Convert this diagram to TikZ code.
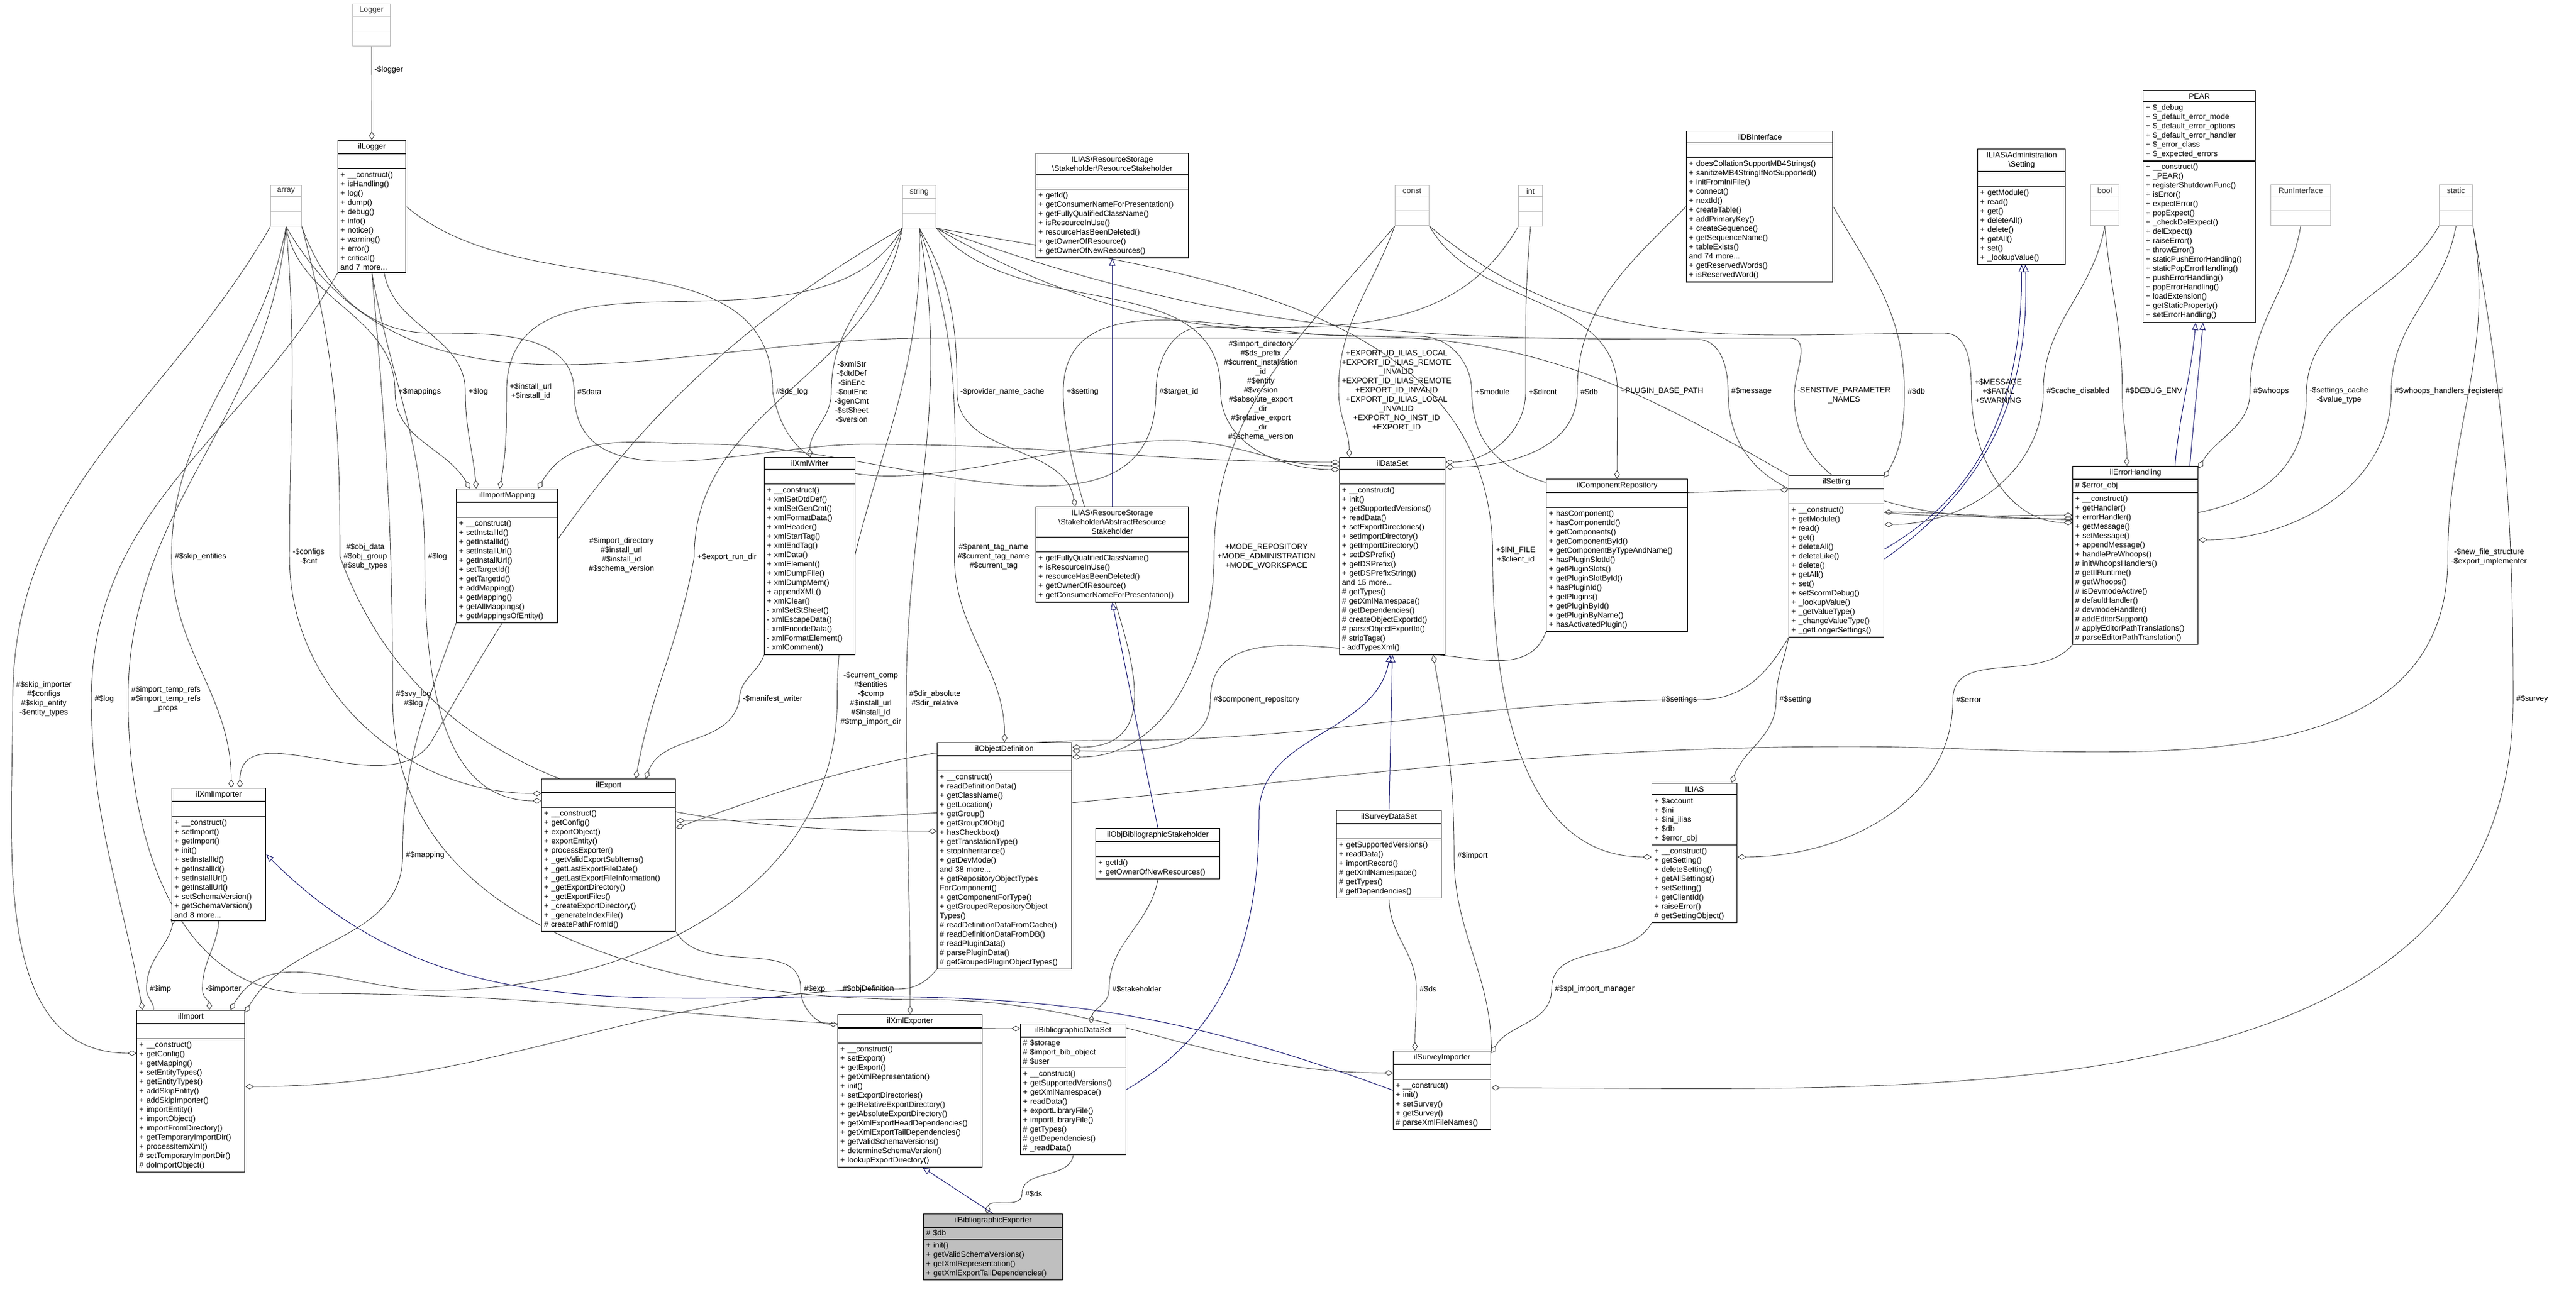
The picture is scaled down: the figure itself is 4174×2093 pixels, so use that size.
\documentclass[tikz,border=0pt]{standalone}
\usepackage{fontspec}
\setmainfont{Liberation Sans}
\usetikzlibrary{shapes.multipart,arrows.meta}
\pgfdeclarelayer{bg}
\pgfsetlayers{bg,main}
\definecolor{edgec}{HTML}{404040}
\definecolor{navyc}{HTML}{191970}
\newcommand{\fs}{\fontsize{6.3}{7.5}\selectfont}
\newcommand{\ttl}[1]{{\centering #1\par}}
\begin{document}
\begin{tikzpicture}[x=0.5pt,y=-0.5pt,
 cls/.style={rectangle split,rectangle split parts=3,draw=black,line width=0.7pt,anchor=north west,
   font=\fs,align=left,inner xsep=2pt,inner ysep=2pt,fill=white},
 gcls/.style={cls,draw=gray!55,text=black!80,line width=0.5pt},
 agg/.style={draw=edgec,line width=0.45pt,-{Diamond[open,length=7pt,width=4.5pt]}},
 inh/.style={draw=navyc,line width=0.5pt,-{Triangle[open,length=6pt,width=5pt]}},
 lbl/.style={font=\fs,align=center,inner sep=0.5pt}]
\useasboundingbox (0,0) rectangle (4174,2093);
% ---------- gray type boxes
\node[gcls,text width=26.5pt] (Logger) at (571,6) {\ttl{Logger}\nodepart{two}\strut\nodepart{three}\strut};
\node[gcls,text width=21pt] (array) at (438,300) {\ttl{array}\nodepart{two}\strut\nodepart{three}\strut};
\node[gcls,text width=23pt] (string) at (1462,300) {\ttl{string}\nodepart{two}\strut\nodepart{three}\strut};
\node[gcls,text width=23.5pt] (const) at (2260,300) {\ttl{const}\nodepart{two}\strut\nodepart{three}\strut};
\node[gcls,text width=15.5pt] (int) at (2460,300) {\ttl{int}\nodepart{two}\strut\nodepart{three}\strut};
\node[gcls,text width=19pt] (bool) at (3387,299) {\ttl{bool}\nodepart{two}\strut\nodepart{three}\strut};
\node[gcls,text width=44.5pt] (RunInterface) at (3679,299) {\ttl{RunInterface}\nodepart{two}\strut\nodepart{three}\strut};
\node[gcls,text width=23pt] (static) at (3952,299) {\ttl{static}\nodepart{two}\strut\nodepart{three}\strut};
% ---------- classes
\node[cls,text width=51pt] (ilLogger) at (547,227) {\ttl{ilLogger}\nodepart{two}\strut\nodepart{three}+ \_\_construct()\\+ isHandling()\\+ log()\\+ dump()\\+ debug()\\+ info()\\+ notice()\\+ warning()\\+ error()\\+ critical()\\and 7 more...};
\node[cls,text width=119.5pt] (RS) at (1678,248) {\ttl{ILIAS\textbackslash ResourceStorage\\\textbackslash Stakeholder\textbackslash ResourceStakeholder}\nodepart{two}\strut\nodepart{three}+ getId()\\+ getConsumerNameForPresentation()\\+ getFullyQualifiedClassName()\\+ isResourceInUse()\\+ resourceHasBeenDeleted()\\+ getOwnerOfResource()\\+ getOwnerOfNewResources()};
\node[cls,text width=114.5pt] (DBI) at (2732,212) {\ttl{ilDBInterface}\nodepart{two}\strut\nodepart{three}+ doesCollationSupportMB4Strings()\\+ sanitizeMB4StringIfNotSupported()\\+ initFromIniFile()\\+ connect()\\+ nextId()\\+ createTable()\\+ addPrimaryKey()\\+ createSequence()\\+ getSequenceName()\\+ tableExists()\\and 74 more...\\+ getReservedWords()\\+ isReservedWord()};
\node[cls,text width=67pt] (AdmSetting) at (3204,241) {\ttl{ILIAS\textbackslash Administration\\\textbackslash Setting}\nodepart{two}\strut\nodepart{three}+ getModule()\\+ read()\\+ get()\\+ deleteAll()\\+ delete()\\+ getAll()\\+ set()\\+ \_lookupValue()};
\node[cls,text width=87pt] (PEAR) at (3472,146) {\ttl{PEAR}\nodepart{two}+ \$\_debug\\+ \$\_default\_error\_mode\\+ \$\_default\_error\_options\\+ \$\_default\_error\_handler\\+ \$\_error\_class\\+ \$\_expected\_errors\nodepart{three}+ \_\_construct()\\+ \_PEAR()\\+ registerShutdownFunc()\\+ isError()\\+ expectError()\\+ popExpect()\\+ \_checkDelExpect()\\+ delExpect()\\+ raiseError()\\+ throwError()\\+ staticPushErrorHandling()\\+ staticPopErrorHandling()\\+ pushErrorHandling()\\+ popErrorHandling()\\+ loadExtension()\\+ getStaticProperty()\\+ setErrorHandling()};
\node[cls,text width=78pt] (IM) at (739,792) {\ttl{ilImportMapping}\nodepart{two}\strut\nodepart{three}+ \_\_construct()\\+ setInstallId()\\+ getInstallId()\\+ setInstallUrl()\\+ getInstallUrl()\\+ setTargetId()\\+ getTargetId()\\+ addMapping()\\+ getMapping()\\+ getAllMappings()\\+ getMappingsOfEntity()};
\node[cls,text width=69.5pt] (XW) at (1238,741) {\ttl{ilXmlWriter}\nodepart{two}\strut\nodepart{three}+ \_\_construct()\\+ xmlSetDtdDef()\\+ xmlSetGenCmt()\\+ xmlFormatData()\\+ xmlHeader()\\+ xmlStartTag()\\+ xmlEndTag()\\+ xmlData()\\+ xmlElement()\\+ xmlDumpFile()\\+ xmlDumpMem()\\+ appendXML()\\+ xmlClear()\\- xmlSetStSheet()\\- xmlEscapeData()\\- xmlEncodeData()\\- xmlFormatElement()\\- xmlComment()};
\node[cls,text width=81.5pt] (DS) at (2170,741) {\ttl{ilDataSet}\nodepart{two}\strut\nodepart{three}+ \_\_construct()\\+ init()\\+ getSupportedVersions()\\+ readData()\\+ setExportDirectories()\\+ setImportDirectory()\\+ getImportDirectory()\\+ setDSPrefix()\\+ getDSPrefix()\\+ getDSPrefixString()\\and 15 more...\\\# getTypes()\\\# getXmlNamespace()\\\# getDependencies()\\\# createObjectExportId()\\\# parseObjectExportId()\\\# stripTags()\\- addTypesXml()};
\node[cls,text width=110.5pt] (CR) at (2505,776) {\ttl{ilComponentRepository}\nodepart{two}\strut\nodepart{three}+ hasComponent()\\+ hasComponentId()\\+ getComponents()\\+ getComponentById()\\+ getComponentByTypeAndName()\\+ hasPluginSlotId()\\+ getPluginSlots()\\+ getPluginSlotById()\\+ hasPluginId()\\+ getPlugins()\\+ getPluginById()\\+ getPluginByName()\\+ hasActivatedPlugin()};
\node[cls,text width=73pt] (SET) at (2898,770) {\ttl{ilSetting}\nodepart{two}\strut\nodepart{three}+ \_\_construct()\\+ getModule()\\+ read()\\+ get()\\+ deleteAll()\\+ deleteLike()\\+ delete()\\+ getAll()\\+ set()\\+ setScormDebug()\\+ \_lookupValue()\\+ \_getValueType()\\+ \_changeValueType()\\+ \_getLongerSettings()};
\node[cls,text width=97.5pt] (EH) at (3358,755) {\ttl{ilErrorHandling}\nodepart{two}\# \$error\_obj\nodepart{three}+ \_\_construct()\\+ getHandler()\\+ errorHandler()\\+ getMessage()\\+ setMessage()\\+ appendMessage()\\+ handlePreWhoops()\\\# initWhoopsHandlers()\\\# getIlRuntime()\\\# getWhoops()\\\# isDevmodeActive()\\\# defaultHandler()\\\# devmodeHandler()\\\# addEditorSupport()\\\# applyEditorPathTranslations()\\\# parseEditorPathTranslation()};
\node[cls,text width=119.5pt] (ARS) at (1678,821) {\ttl{ILIAS\textbackslash ResourceStorage\\\textbackslash Stakeholder\textbackslash AbstractResource\\Stakeholder}\nodepart{two}\strut\nodepart{three}+ getFullyQualifiedClassName()\\+ isResourceInUse()\\+ resourceHasBeenDeleted()\\+ getOwnerOfResource()\\+ getConsumerNameForPresentation()};
\node[cls,text width=72pt] (XI) at (278,1277) {\ttl{ilXmlImporter}\nodepart{two}\strut\nodepart{three}+ \_\_construct()\\+ setImport()\\+ getImport()\\+ init()\\+ setInstallId()\\+ getInstallId()\\+ setInstallUrl()\\+ getInstallUrl()\\+ setSchemaVersion()\\+ getSchemaVersion()\\and 8 more...};
\node[cls,text width=104.5pt] (EXP) at (877,1262) {\ttl{ilExport}\nodepart{two}\strut\nodepart{three}+ \_\_construct()\\+ getConfig()\\+ exportObject()\\+ exportEntity()\\+ processExporter()\\+ \_getValidExportSubItems()\\+ \_getLastExportFileDate()\\+ \_getLastExportFileInformation()\\+ \_getExportDirectory()\\+ \_getExportFiles()\\+ \_createExportDirectory()\\+ \_generateIndexFile()\\\# createPathFromId()};
\node[cls,text width=105pt] (OD) at (1518,1203) {\ttl{ilObjectDefinition}\nodepart{two}\strut\nodepart{three}+ \_\_construct()\\+ readDefinitionData()\\+ getClassName()\\+ getLocation()\\+ getGroup()\\+ getGroupOfObj()\\+ hasCheckbox()\\+ getTranslationType()\\+ stopInheritance()\\+ getDevMode()\\and 38 more...\\+ getRepositoryObjectTypes\\ForComponent()\\+ getComponentForType()\\+ getGroupedRepositoryObject\\Types()\\\# readDefinitionDataFromCache()\\\# readDefinitionDataFromDB()\\\# readPluginData()\\\# parsePluginData()\\\# getGroupedPluginObjectTypes()};
\node[cls,text width=96.5pt] (OBS) at (1775,1342) {\ttl{ilObjBibliographicStakeholder}\nodepart{two}\strut\nodepart{three}+ getId()\\+ getOwnerOfNewResources()};
\node[cls,text width=81pt] (SDS) at (2165,1313) {\ttl{ilSurveyDataSet}\nodepart{two}\strut\nodepart{three}+ getSupportedVersions()\\+ readData()\\+ importRecord()\\\# getXmlNamespace()\\\# getTypes()\\\# getDependencies()};
\node[cls,text width=65pt] (ILIAS) at (2676,1269) {\ttl{ILIAS}\nodepart{two}+ \$account\\+ \$ini\\+ \$ini\_ilias\\+ \$db\\+ \$error\_obj\nodepart{three}+ \_\_construct()\\+ getSetting()\\+ deleteSetting()\\+ getAllSettings()\\+ setSetting()\\+ getClientId()\\+ raiseError()\\\# getSettingObject()};
\node[cls,text width=83.5pt] (IMP) at (221,1637) {\ttl{ilImport}\nodepart{two}\strut\nodepart{three}+ \_\_construct()\\+ getConfig()\\+ getMapping()\\+ setEntityTypes()\\+ getEntityTypes()\\+ addSkipEntity()\\+ addSkipImporter()\\+ importEntity()\\+ importObject()\\+ importFromDirectory()\\+ getTemporaryImportDir()\\+ processItemXml()\\\# setTemporaryImportDir()\\\# doImportObject()};
\node[cls,text width=113pt] (XE) at (1357,1644) {\ttl{ilXmlExporter}\nodepart{two}\strut\nodepart{three}+ \_\_construct()\\+ setExport()\\+ getExport()\\+ getXmlRepresentation()\\+ init()\\+ setExportDirectories()\\+ getRelativeExportDirectory()\\+ getAbsoluteExportDirectory()\\+ getXmlExportHeadDependencies()\\+ getXmlExportTailDependencies()\\+ getValidSchemaVersions()\\+ determineSchemaVersion()\\+ lookupExportDirectory()};
\node[cls,text width=81.5pt] (BDS) at (1653,1659) {\ttl{ilBibliographicDataSet}\nodepart{two}\# \$storage\\\# \$import\_bib\_object\\\# \$user\nodepart{three}+ \_\_construct()\\+ getSupportedVersions()\\+ getXmlNamespace()\\+ readData()\\+ exportLibraryFile()\\+ importLibraryFile()\\\# getTypes()\\\# getDependencies()\\\# \_readData()};
\node[cls,text width=108.5pt,fill=black!25] (BE) at (1496,1967) {\ttl{ilBibliographicExporter}\nodepart{two}\# \$db\nodepart{three}+ init()\\+ getValidSchemaVersions()\\+ getXmlRepresentation()\\+ getXmlExportTailDependencies()};
\node[cls,text width=75pt] (SI) at (2257,1703) {\ttl{ilSurveyImporter}\nodepart{two}\strut\nodepart{three}+ \_\_construct()\\+ init()\\+ setSurvey()\\+ getSurvey()\\\# parseXmlFileNames()};
% ---------- labels
\node[lbl] (lLogger) at (630,113) {-\$logger};
\node[lbl] (lMappings) at (680,635) {+\$mappings};
\node[lbl] (lLog1) at (775,635) {+\$log};
\node[lbl] (lInst) at (860,635) {+\$install\_url\\+\$install\_id};
\node[lbl] (lData) at (955,635) {\#\$data};
\node[lbl] (lDsLog) at (1283,635) {\#\$ds\_log};
\node[lbl] (lXml) at (1380,635) {-\$xmlStr\\-\$dtdDef\\-\$inEnc\\-\$outEnc\\-\$genCmt\\-\$stSheet\\-\$version};
\node[lbl] (lProv) at (1624,635) {-\$provider\_name\_cache};
\node[lbl] (lSetting) at (1754,635) {+\$setting};
\node[lbl] (lTarget) at (1910,635) {\#\$target\_id};
\node[lbl] (lImpDir) at (2043,633) {\#\$import\_directory\\\#\$ds\_prefix\\\#\$current\_installation\\\_id\\\#\$entity\\\#\$version\\\#\$absolute\_export\\\_dir\\\#\$relative\_export\\\_dir\\\#\$schema\_version};
\node[lbl] (lExpId) at (2263,633) {+EXPORT\_ID\_ILIAS\_LOCAL\\+EXPORT\_ID\_ILIAS\_REMOTE\\\_INVALID\\+EXPORT\_ID\_ILIAS\_REMOTE\\+EXPORT\_ID\_INVALID\\+EXPORT\_ID\_ILIAS\_LOCAL\\\_INVALID\\+EXPORT\_NO\_INST\_ID\\+EXPORT\_ID};
\node[lbl] (lModule) at (2418,635) {+\$module};
\node[lbl] (lDircnt) at (2500,635) {+\$dircnt};
\node[lbl] (lDb1) at (2575,635) {\#\$db};
\node[lbl] (lPlugin) at (2693,634) {+PLUGIN\_BASE\_PATH};
\node[lbl] (lMessage) at (2838,634) {\#\$message};
\node[lbl] (lSens) at (2988,641) {-SENSTIVE\_PARAMETER\\\_NAMES};
\node[lbl] (lDb2) at (3105,634) {\#\$db};
\node[lbl] (lMsg) at (3238,634) {+\$MESSAGE\\+\$FATAL\\+\$WARNING};
\node[lbl] (lCache) at (3367,634) {\#\$cache\_disabled};
\node[lbl] (lDebug) at (3490,634) {\#\$DEBUG\_ENV};
\node[lbl] (lWhoops) at (3680,634) {\#\$whoops};
\node[lbl] (lSetCache) at (3790,641) {-\$settings\_cache\\-\$value\_type};
\node[lbl] (lWhReg) at (3968,634) {\#\$whoops\_handlers\_registered};
\node[lbl] (lNewFile) at (4033,903) {-\$new\_file\_structure\\-\$export\_implementer};
\node[lbl] (lSkipEnt) at (325,902) {\#\$skip\_entities};
\node[lbl] (lConfigs) at (500,902) {-\$configs\\-\$cnt};
\node[lbl] (lObjData) at (592,902) {\#\$obj\_data\\\#\$obj\_group\\\#\$sub\_types};
\node[lbl] (lLog2) at (709,902) {\#\$log};
\node[lbl] (lImpDir2) at (1007,900) {\#\$import\_directory\\\#\$install\_url\\\#\$install\_id\\\#\$schema\_version};
\node[lbl] (lRunDir) at (1178,903) {+\$export\_run\_dir};
\node[lbl] (lTag) at (1610,902) {\#\$parent\_tag\_name\\\#\$current\_tag\_name\\\#\$current\_tag};
\node[lbl] (lMode) at (2052,902) {+MODE\_REPOSITORY\\+MODE\_ADMINISTRATION\\+MODE\_WORKSPACE};
\node[lbl] (lIni) at (2456,900) {+\$INI\_FILE\\+\$client\_id};
\node[lbl] (lSkipImp) at (71,1133) {\#\$skip\_importer\\\#\$configs\\\#\$skip\_entity\\-\$entity\_types};
\node[lbl] (lLog3) at (169,1133) {\#\$log};
\node[lbl] (lTemp) at (269,1133) {\#\$import\_temp\_refs\\\#\$import\_temp\_refs\\\_props};
\node[lbl] (lSvyLog) at (670,1133) {\#\$svy\_log\\\#\$log};
\node[lbl] (lManifest) at (1252,1133) {-\$manifest\_writer};
\node[lbl] (lComp) at (1411,1133) {-\$current\_comp\\\#\$entities\\-\$comp\\\#\$install\_url\\\#\$install\_id\\\#\$tmp\_import\_dir};
\node[lbl] (lDirAbs) at (1515,1133) {\#\$dir\_absolute\\\#\$dir\_relative};
\node[lbl] (lCompRep) at (2036,1134) {\#\$component\_repository};
\node[lbl] (lSettings) at (2721,1134) {\#\$settings};
\node[lbl] (lSetting2) at (2909,1134) {\#\$setting};
\node[lbl] (lError) at (3190,1134) {\#\$error};
\node[lbl] (lSurvey) at (4103,1133) {\#\$survey};
\node[lbl] (lMapping) at (689,1386) {\#\$mapping};
\node[lbl] (lImport) at (2386,1387) {\#\$import};
\node[lbl] (lImp) at (260,1603) {\#\$imp};
\node[lbl] (lImporter) at (362,1603) {-\$importer};
\node[lbl] (lExp) at (1320,1603) {\#\$exp};
\node[lbl] (lObjDef) at (1407,1603) {\#\$objDefinition};
\node[lbl] (lStake) at (1842,1603) {\#\$stakeholder};
\node[lbl] (lDs1) at (2314,1603) {\#\$ds};
\node[lbl] (lSpl) at (2584,1603) {\#\$spl\_import\_manager};
\node[lbl] (lDs2) at (1675,1935) {\#\$ds};
\begin{pgfonlayer}{bg}
% ---------- aggregation edges
\draw[agg] (Logger) -- (ilLogger);
\draw[agg] (array.south) to[out=-80,in=90] ([xshift=-2pt]lMappings.west) to[out=-90,in=120] ([xshift=-30pt]IM.north);
\draw[agg] ([xshift=10pt]ilLogger.south) to[out=-80,in=90] ([xshift=-2pt]lLog1.west) to[out=-90,in=95] ([xshift=-25pt]IM.north);
\draw[agg] (string.south west) to[out=-120,in=90] ([xshift=-2pt]lInst.west) to[out=-90,in=80] ([xshift=-6pt]IM.north);
\draw[agg] (int.south west) to[out=-120,in=0] (1950,530) to[out=180,in=90] ([xshift=-2pt]lTarget.west) to[out=-90,in=0] (1150,720) to[out=180,in=60] ([xshift=25pt]IM.north);
\draw[agg] (array.south east) to[out=-70,in=180] (700,540) to[out=0,in=90] ([xshift=-2pt]lData.west) to[out=-90,in=180] (1400,720) to[out=0,in=180] ([yshift=-4pt]DS.north west);
\draw[agg] (ilLogger.east) to[out=-40,in=90] ([xshift=-2pt]lDsLog.west) to[out=-80,in=180] (1900,714) to[out=0,in=180] ([yshift=-7pt]DS.north west);
\draw[agg] (string.south west) to[out=-110,in=90] ([xshift=-2pt]lXml.west) to[out=-90,in=90] (XW.north);
\draw[agg] (string.south) to[out=-60,in=90] ([xshift=-2pt]lProv.west) to[out=-90,in=100] ([xshift=-30pt]ARS.north);
\draw[agg] (SET.north west) to[out=150,in=0] (2200,545) to[out=180,in=90] ([xshift=-2pt]lSetting.west) to[out=-90,in=0] ([yshift=-4pt]OD.north east);
\draw[agg] (string.south east) to[out=-50,in=90] ([xshift=-2pt]lImpDir.west) to[out=-90,in=180] ([yshift=-10pt]DS.north west);
\draw[agg] (const.south west) to[out=-110,in=90] ([xshift=-2pt]lExpId.west) to[out=-90,in=90] ([xshift=-35pt]DS.north);
\draw[agg] (string.south east) to[out=-30,in=180] (2300,545) to[out=0,in=90] ([xshift=-2pt]lModule.west) to[out=-90,in=180] ([yshift=-12pt]SET.north west);
\draw[agg] (int.south) to[out=-95,in=90] ([xshift=-2pt]lDircnt.west) to[out=-90,in=0] ([yshift=-4pt]DS.north east);
\draw[agg] (DBI.west) to[out=-135,in=90] ([xshift=-2pt]lDb1.west) to[out=-90,in=0] ([yshift=-8pt]DS.north east);
\draw[agg] (const.south east) to[out=-60,in=90] ([xshift=-2pt]lPlugin.west) to[out=-90,in=90] (CR.north);
\draw[agg] (string.south east) to[out=-20,in=180] (2750,550) to[out=0,in=90] ([xshift=-2pt]lMessage.west) to[out=-90,in=180] ([yshift=-40pt]EH.north west);
\draw[agg] (array.south) to[out=-60,in=180] (1500,548) to[out=0,in=180] (2900,548) to[out=0,in=90] ([xshift=-2pt]lSens.west) to[out=-90,in=180] ([yshift=-43pt]EH.north west);
\draw[agg] (DBI.east) to[out=-60,in=90] ([xshift=-2pt]lDb2.west) to[out=-90,in=60] ([yshift=-2pt]SET.north east);
\draw[agg] (const.south east) to[out=-40,in=180] (3150,540) to[out=0,in=90] ([xshift=-2pt]lMsg.west) to[out=-90,in=180] ([yshift=-46pt]EH.north west);
\draw[agg] (bool.south) to[out=-100,in=90] ([xshift=-2pt]lCache.west) to[out=-90,in=0] ([yshift=-40pt]SET.north east);
\draw[agg] (bool.south) to[out=-85,in=90] ([xshift=-2pt]lDebug.west) to[out=-90,in=90] ([xshift=-7pt]EH.north);
\draw[agg] (RunInterface.south) to[out=-100,in=90] ([xshift=-2pt]lWhoops.west) to[out=-90,in=60] ([yshift=-2pt]EH.north east);
\draw[agg] (static.south west) to[out=-120,in=90] ([xshift=-2pt]lSetCache.west) to[out=-90,in=0] ([yshift=-30pt]SET.north east);
\draw[agg] (static.south) to[out=-100,in=90] ([xshift=-2pt]lWhReg.west) to[out=-90,in=0] ([yshift=-60pt]EH.north east);
\draw[agg] (static.south east) to[out=-80,in=90] ([xshift=-2pt]lNewFile.west) to[out=-90,in=0] (3000,1210) to[out=180,in=0] ([yshift=-34pt]EXP.north east);
\draw[agg] (SET.south west) to[out=-120,in=0] ([xshift=2pt]lSettings.east) to[out=180,in=0] (1800,1200) to[out=180,in=20] ([yshift=-40pt]EXP.north east);
\draw[agg] (SET.south west) to[out=-100,in=90] ([xshift=-2pt]lSetting2.west) to[out=-90,in=70] ([xshift=30pt]ILIAS.north);
\draw[agg] (EH.south west) to[out=-130,in=90] ([xshift=-2pt]lError.west) to[out=-90,in=0] ([yshift=-60pt]ILIAS.north east);
\draw[agg] (CR.south west) to[out=-110,in=0] (2300,1060) to[out=180,in=90] ([xshift=-2pt]lCompRep.west) to[out=-90,in=0] ([yshift=-7pt]OD.north east);
\draw[agg] (SI.north east) to[out=90,in=-90] ([xshift=-2pt]lImport.west) to[out=90,in=-80] ([xshift=33pt]DS.south);
\draw[agg] (SDS.south) to[out=-90,in=90] ([xshift=-2pt]lDs1.west) to[out=-90,in=90] ([xshift=-22pt]SI.north);
\draw[agg] (ILIAS.south west) to[out=-120,in=90] ([xshift=-2pt]lSpl.west) to[out=-90,in=60] ([yshift=-2pt]SI.north east);
\draw[agg] (static.south east) to[out=-80,in=90] ([xshift=-2pt]lSurvey.west) to[out=-90,in=0] ([yshift=-30pt]SI.north east);
\draw[agg] (OBS.south) to[out=-100,in=90] ([xshift=-2pt]lStake.west) to[out=-90,in=80] ([xshift=14pt]BDS.north);
\draw[agg] (BDS.south) to[out=-100,in=90] ([xshift=-2pt]lDs2.west) to[out=-90,in=80] ([xshift=-5pt]BE.north);
\draw[agg] (EXP.south east) to[out=-60,in=90] ([xshift=-2pt]lExp.west) to[out=-90,in=180] ([yshift=-8pt]XE.north west);
\draw[agg] (OD.south west) to[out=-130,in=0] ([xshift=2pt]lObjDef.east) to[out=180,in=0] ([yshift=-62pt]IMP.north east);
\draw[agg] (XW.south west) to[out=-110,in=90] ([xshift=-2pt]lManifest.west) to[out=-100,in=70] ([xshift=30pt]EXP.north);
\draw[agg] (string.south west) to[out=-100,in=90] ([xshift=-2pt]lRunDir.west) to[out=-100,in=80] ([xshift=22pt]EXP.north);
\draw[agg] (string.south) to[out=-88,in=90] ([xshift=-2pt]lComp.west) to[out=-90,in=0] (700,1605) to[out=180,in=60] ([xshift=-12pt]IMP.north east);
\draw[agg] (string.south) to[out=-80,in=90] ([xshift=-2pt]lDirAbs.west) to[out=-90,in=90] (XE.north);
\draw[agg] (string.south) to[out=-70,in=90] ([xshift=-2pt]lTag.west) to[out=-90,in=90] (OD.north);
\draw[agg] (const.south west) to[out=-130,in=90] ([xshift=-2pt]lMode.west) to[out=-90,in=0] ([yshift=-12pt]OD.north east);
\draw[agg] (string.south east) to[out=-10,in=90] ([xshift=-2pt]lIni.west) to[out=-90,in=180] ([yshift=-60pt]ILIAS.north west);
\draw[agg] (IM.south west) to[out=-110,in=90] ([xshift=-2pt]lMapping.west) to[out=-90,in=60] ([yshift=-2pt]IMP.north east);
\draw[agg] ([xshift=-30pt]IMP.north) to[out=90,in=-90] ([xshift=-2pt]lImp.west) to[out=90,in=-100] ([yshift=4pt,xshift=2pt]XI.south west);
\draw[agg] (XI.south) to[out=-95,in=90] ([xshift=-2pt]lImporter.west) to[out=-90,in=90] ([xshift=15pt]IMP.north);
\draw[agg] (array.south west) to[out=-120,in=90] ([xshift=-2pt]lSkipImp.west) to[out=-90,in=180] ([yshift=-35pt]IMP.north west);
\draw[agg] (ilLogger.south west) to[out=-120,in=90] ([xshift=-2pt]lLog3.west) to[out=-90,in=100] ([xshift=5pt]IMP.north west);
\draw[agg] (array.south) to[out=-95,in=90] ([xshift=-2pt]lTemp.west) to[out=-90,in=180] (500,1610) to[out=0,in=180] ([yshift=-4pt]BDS.north west);
\draw[agg] (array.south) to[out=-100,in=90] ([xshift=-2pt]lSkipEnt.west) to[out=-90,in=90] ([xshift=10pt]XI.north);
\draw[agg] (string.south west) to[out=-150,in=60] (700,1200) to[out=-120,in=90] ([xshift=17pt]XI.north);
\draw[agg] (array.south) to[out=-85,in=90] ([xshift=-2pt]lConfigs.west) to[out=-90,in=180] ([yshift=-12pt]EXP.north west);
\draw[agg] (ilLogger.south) to[out=-80,in=90] ([xshift=-2pt]lLog2.west) to[out=-90,in=180] ([yshift=-18pt]EXP.north west);
\draw[agg] (array.south east) to[out=-75,in=90] ([xshift=-2pt]lObjData.west) to[out=-70,in=180] ([yshift=-72pt]OD.north west);
\draw[agg] (ilLogger.south) to[out=-85,in=90] ([xshift=-2pt]lSvyLog.west) to[out=-90,in=180] (1500,1620) to[out=0,in=180] ([yshift=-18pt]SI.north west);
% ---------- inheritance edges
\draw[inh] (SDS.north) -- (DS.south);
\draw[inh] (BDS.east) to[out=30,in=-90] (2040,1320) to[out=90,in=-100] ([xshift=-2pt]DS.south);
\draw[inh] (OBS.north) -- (ARS.south);
\draw[inh] (ARS.north) -- (RS.south);
\draw[inh] (BE.north) -- ([xshift=10pt]XE.south);
\draw[inh] (SI.west) to[out=160,in=0] (1400,1615) to[out=180,in=-45] (XI.east);
\draw[inh] ([yshift=-60pt]SET.north east) to[out=30,in=-90] (AdmSetting.south);
\draw[inh] ([yshift=-68pt]SET.north east) to[out=35,in=-88] ([xshift=3pt]AdmSetting.south);
\draw[inh] ([xshift=32pt]EH.north) to[out=85,in=-95] ([xshift=-3pt]PEAR.south);
\draw[inh] ([xshift=44pt]EH.north) to[out=85,in=-95] ([xshift=3pt]PEAR.south);
\end{pgfonlayer}
\end{tikzpicture}
\end{document}
